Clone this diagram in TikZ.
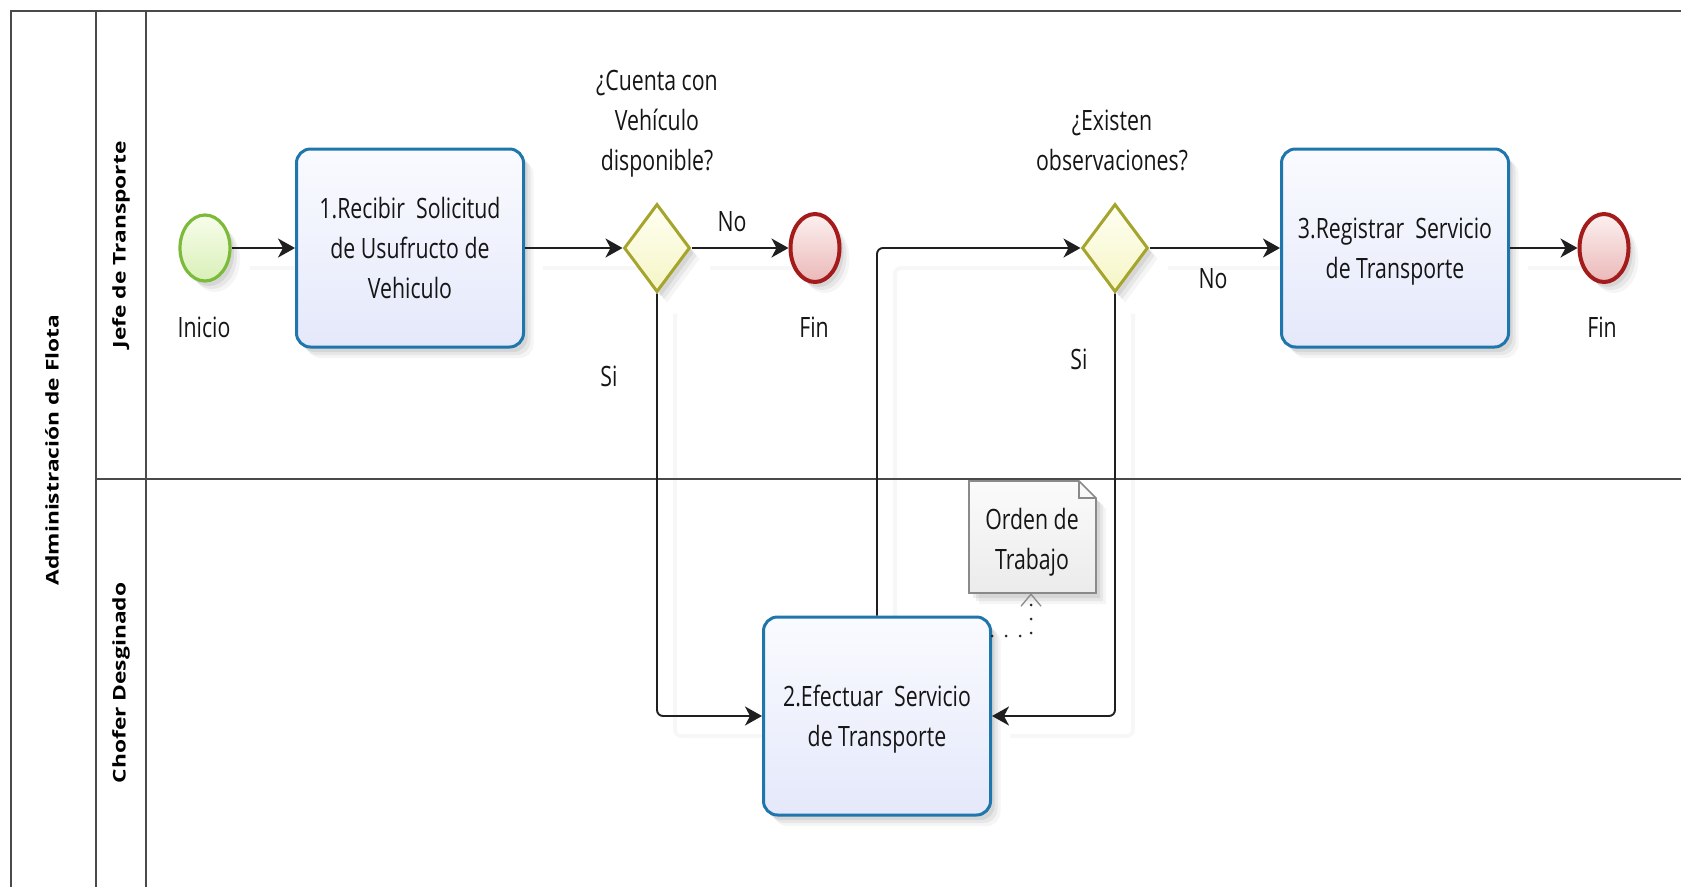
\documentclass[tikz,border=0pt]{standalone}
\usepackage{fontspec}
\setmainfont{Open Sans}
\newfontfamily\labelfont[FakeStretch=0.76]{Open Sans}
\newfontfamily\lanefont[FakeStretch=1.3]{Open Sans}
\usetikzlibrary{arrows.meta,shadows,shapes.geometric,backgrounds}

\definecolor{frameline}{HTML}{4A4A4A}
\definecolor{taskblue}{HTML}{1F76AC}
\definecolor{tasktop}{HTML}{FAFBFF}
\definecolor{taskbot}{HTML}{E4E8FA}
\definecolor{startline}{HTML}{7CBA3A}
\definecolor{starttop}{HTML}{F7FDEB}
\definecolor{startbot}{HTML}{D9F0B8}
\definecolor{endline}{HTML}{A31B1B}
\definecolor{endtop}{HTML}{FCF0F0}
\definecolor{endbot}{HTML}{EBB8B8}
\definecolor{gateline}{HTML}{A5A52E}
\definecolor{gatetop}{HTML}{FFFFF2}
\definecolor{gatebot}{HTML}{F5F5C6}
\definecolor{docline}{HTML}{8A8A8A}
\definecolor{doctop}{HTML}{FBFBFB}
\definecolor{docbot}{HTML}{EBEBEB}
\definecolor{inktext}{HTML}{151515}

\begin{document}
\begin{tikzpicture}[x=1pt,y=-1pt,
  txt/.style={font=\labelfont\fontsize{28}{40}\selectfont, text=inktext, align=center, inner sep=0pt},
  softshadow/.style={
    general shadow={shadow xshift=4pt,shadow yshift=-5pt,fill=black,opacity=0.07},
    general shadow={shadow xshift=7pt,shadow yshift=-8pt,fill=black,opacity=0.06},
    general shadow={shadow xshift=10pt,shadow yshift=-11pt,fill=black,opacity=0.04}},
  taskbox/.style={txt, rectangle, rounded corners=14pt, draw=taskblue, line width=3pt,
    minimum width=227pt, minimum height=198pt, top color=tasktop, bottom color=taskbot, softshadow},
  startev/.style={ellipse, draw=startline, line width=3.2pt, minimum width=50pt, minimum height=66pt,
    inner sep=0pt, top color=starttop, bottom color=startbot, softshadow},
  endev/.style={ellipse, draw=endline, line width=4pt, minimum width=49pt, minimum height=68pt,
    inner sep=0pt, top color=endtop, bottom color=endbot, softshadow},
  gate/.style={diamond, draw=gateline, line width=3pt, minimum width=66pt, minimum height=88pt,
    inner sep=0pt, top color=gatetop, bottom color=gatebot, softshadow},
  lanetitle/.style={font=\lanefont\bfseries\fontsize{17.5}{20}\selectfont, text=black, rotate=90, inner sep=0pt},
  frame/.style={draw=frameline, line width=1.6pt},
  flow/.style={draw=black!88, line width=1.9pt, rounded corners=6pt,
    -{Stealth[length=17pt,width=19pt,inset=5pt]}},
  flowshade/.style={draw=black!3, line width=4pt, rounded corners=6pt,
    transform canvas={shift={(18pt,-20pt)}}},
  assoc/.style={draw=black!85, line width=3pt, line cap=round, dash pattern=on 0pt off 14pt,
    -{Straight Barb[length=12pt,width=20pt,line width=1.3pt,color=black!45]}},
]
\useasboundingbox (0,0) rectangle (1681,887);

% pool and lanes
\draw[frame] (11,887) -- (11,11) -- (1681,11);
\draw[frame] (96,11) -- (96,887);
\draw[frame] (146,11) -- (146,887);
\draw[frame] (96,479) -- (1681,479);
\node[lanetitle] (pool) at (52,450) {Administración de Flota};
\node[lanetitle] (lane1) at (121,245) {Jefe de Transporte};
\node[lanetitle] (lane2) at (121,683) {Chofer Desginado};

% data object
\draw[draw=docline, line width=1.6pt, top color=doctop, bottom color=docbot, softshadow]
  (969,481) -- (1079,481) -- (1096,498) -- (1096,593) -- (969,593) -- cycle;
\draw[docline, line width=1.2pt] (1079,481) |- (1096,498);
\node[minimum width=127pt, minimum height=112pt, inner sep=0pt] (doc) at (1032,537) {};
\node[txt] (doctxt) at (1032,542) {Orden de\\Trabajo};

% events, tasks and gateways
\node[startev] (start) at (205,248) {};
\node[txt] (startlbl) at (204,327) {Inicio};
\node[taskbox] (t1) at (410,248) {1.Recibir\ \ Solicitud\\de Usufructo de\\Vehiculo};
\node[gate] (g1) at (657,248) {};
\node[txt] (g1lbl) at (657,124) {¿Cuenta con\\Vehículo\\disponible?};
\node[endev] (e1) at (815,248) {};
\node[txt] (e1lbl) at (814,327) {Fin};
\node[gate] (g2) at (1115,248) {};
\node[txt] (g2lbl) at (1112,140) {¿Existen\\observaciones?};
\node[taskbox, text depth=-4pt] (t3) at (1395,248) {3.Registrar\ \ Servicio\\de Transporte};
\node[endev] (e2) at (1604,248) {};
\node[txt] (e2lbl) at (1602,327) {Fin};
\node[taskbox, text depth=-4pt] (t2) at (877,716) {2.Efectuar\ \ Servicio\\de Transporte};

% sequence flows
\draw[flow] (start) -- (t1);
\draw[flow] (t1) -- (g1);
\draw[flow] (g1) -- (e1);
\draw[flow] (g1.south) |- (t2.west);
\draw[flow] (t2.north) |- (g2.west);
\draw[flow] (g2) -- (t3);
\draw[flow] (t3) -- (e2);
\draw[flow] (g2.south) |- (t2.east);

% faint shadows of the flows, behind everything
\begin{scope}[on background layer]
\draw[flowshade] (start) -- (t1) -- (g1) -- (e1);
\draw[flowshade] (g1.south) |- (t2.west);
\draw[flowshade] (t2.north) |- (g2.west);
\draw[flowshade] (g2) -- (t3) -- (e2);
\draw[flowshade] (g2.south) |- (t2.east);
\end{scope}

% flow labels
\node[txt] (no1) at (732,222) {No};
\node[txt] (si1) at (609,376) {Si};
\node[txt] (no2) at (1213,279) {No};
\node[txt] (si2) at (1079,359) {Si};

% data association
\coordinate (abend) at (1031,636);
\draw[assoc] (t2.east |- abend) -- (abend) -- (doc.south -| abend);
\end{tikzpicture}
\end{document}
